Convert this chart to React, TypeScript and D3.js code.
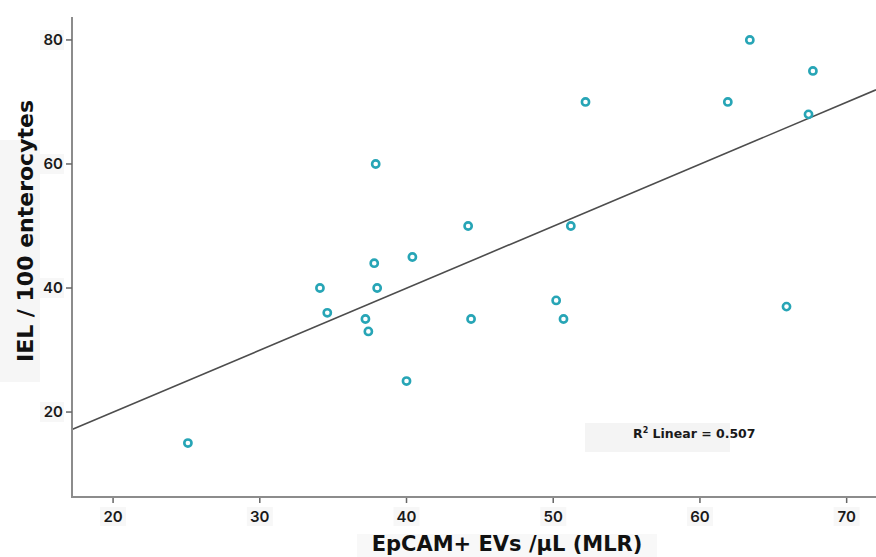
import React, { useEffect, useRef } from "react";
import * as d3 from "d3";

// EpCAM+ EVs /µL (MLR) vs IEL / 100 enterocytes
const evCounts = [25.1, 34.1, 34.6, 37.2, 37.4, 37.9, 37.8, 38.0, 40.0, 40.4, 44.2, 44.4, 50.2, 50.7, 51.2, 52.2, 61.9, 63.4, 67.7, 67.4, 65.9];
const ielCounts = [15, 40, 36, 35, 33, 60, 44, 40, 25, 45, 50, 35, 38, 35, 50, 70, 70, 80, 75, 68, 37];
const xTicks = [20, 30, 40, 50, 60, 70];
const yTicks = [20, 40, 60, 80];
const xDomain = [17.2, 72];
const yDomain = [6.3, 83.7];
const rSquaredLabel = "0.507";

const TICK_FONT = "Inter, 'Open Sans', sans-serif";
const TITLE_FONT = "'DejaVu Sans', Inter, sans-serif";

const App = () => {
  const ref = useRef<SVGSVGElement>(null);

  useEffect(() => {
    const svg = d3.select(ref.current);
    svg.selectAll("*").remove();

    const width = 876;
    const height = 557;
    const left = 72;
    const right = 876;
    const top = 17;
    const bottom = 497;

    const x = d3.scaleLinear().domain(xDomain).range([left, right]);
    const y = d3.scaleLinear().domain(yDomain).range([bottom, top]);

    svg.attr("width", width).attr("height", height);

    // faint label backgrounds (from the scanned figure)
    svg.append("rect").attr("x", 0).attr("y", 140).attr("width", 40).attr("height", 242).attr("fill", "#f6f6f6");
    svg.append("rect").attr("x", 357).attr("y", 534).attr("width", 300).attr("height", 23).attr("fill", "#f8f8f8");
    svg.append("rect").attr("x", 585).attr("y", 423).attr("width", 145).attr("height", 29).attr("fill", "#f4f4f4");

    // regression line computed from the points
    const data = evCounts.map((v, i) => ({ x: v, y: ielCounts[i] }));
    const mx = d3.mean(data, (d) => d.x) as number;
    const my = d3.mean(data, (d) => d.y) as number;
    const sxy = d3.sum(data, (d) => (d.x - mx) * (d.y - my));
    const sxx = d3.sum(data, (d) => (d.x - mx) ** 2);
    const slope = sxy / sxx;
    const intercept = my - slope * mx;

    svg
      .append("line")
      .attr("x1", x(xDomain[0]))
      .attr("y1", y(intercept + slope * xDomain[0]))
      .attr("x2", x(xDomain[1]))
      .attr("y2", y(intercept + slope * xDomain[1]))
      .attr("stroke", "#4d4d4d")
      .attr("stroke-width", 1.6);

    // axes
    const xAxis = svg.append("g").attr("transform", `translate(0,${bottom})`);
    xAxis.append("line").attr("x1", left).attr("x2", right).attr("stroke", "#8c8c8c").attr("stroke-width", 2);
    const xt = xAxis.selectAll(".xt").data(xTicks).enter().append("g").attr("transform", (d) => `translate(${x(d)},0)`);
    xt.append("rect").attr("x", -13).attr("y", 10).attr("width", 26).attr("height", 19).attr("fill", "#f7f7f7");
    xt.append("line").attr("y1", 1).attr("y2", 6).attr("stroke", "#666").attr("stroke-width", 1.5);
    xt.append("text")
      .attr("y", 25)
      .attr("text-anchor", "middle")
      .style("font-family", TICK_FONT)
      .style("font-size", "15px")
      .style("font-weight", 600)
      .attr("fill", "#1a1a1a")
      .text((d) => d);

    const yAxis = svg.append("g").attr("transform", `translate(${left},0)`);
    yAxis.append("line").attr("y1", top).attr("y2", bottom + 1).attr("stroke", "#8c8c8c").attr("stroke-width", 2);
    const yt = yAxis.selectAll(".yt").data(yTicks).enter().append("g").attr("transform", (d) => `translate(0,${y(d)})`);
    yt.append("rect").attr("x", -32).attr("y", -10).attr("width", 24).attr("height", 20).attr("fill", "#f7f7f7");
    yt.append("line").attr("x1", -6).attr("x2", 0).attr("stroke", "#666").attr("stroke-width", 1.5);
    yt.append("text")
      .attr("x", -9)
      .attr("dy", "0.36em")
      .attr("text-anchor", "end")
      .style("font-family", TICK_FONT)
      .style("font-size", "15px")
      .style("font-weight", 600)
      .attr("fill", "#1a1a1a")
      .text((d) => d);

    // points
    svg
      .selectAll(".pt")
      .data(data)
      .enter()
      .append("circle")
      .attr("cx", (d) => x(d.x))
      .attr("cy", (d) => y(d.y))
      .attr("r", 3.6)
      .attr("fill", "#fff")
      .attr("stroke", "#27a5b6")
      .attr("stroke-width", 2.6);

    // titles
    svg
      .append("text")
      .attr("x", 507)
      .attr("y", 551)
      .attr("text-anchor", "middle")
      .style("font-family", TITLE_FONT)
      .style("font-size", "21px")
      .style("font-weight", 700)
      .attr("fill", "#111")
      .text("EpCAM+ EVs /µL (MLR)");

    svg
      .append("text")
      .attr("transform", "translate(33,231) rotate(-90)")
      .attr("text-anchor", "middle")
      .style("font-family", TITLE_FONT)
      .style("font-size", "22px")
      .style("font-weight", 700)
      .attr("fill", "#111")
      .text("IEL / 100 enterocytes");

    const r2 = svg
      .append("text")
      .attr("x", 633)
      .attr("y", 438)
      .style("font-family", TITLE_FONT)
      .style("font-size", "12.5px")
      .style("font-weight", 700)
      .attr("fill", "#1a1a1a");
    r2.append("tspan").text("R");
    r2.append("tspan").attr("dy", -5).style("font-size", "8px").text("2");
    r2.append("tspan").attr("dy", 5).text(` Linear = ${rSquaredLabel}`);

    return () => {
      svg.selectAll("*").remove();
    };
  }, []);

  return <svg ref={ref} style={{ position: "absolute", left: 0, top: 0, display: "block" }}></svg>;
};

export default App;
